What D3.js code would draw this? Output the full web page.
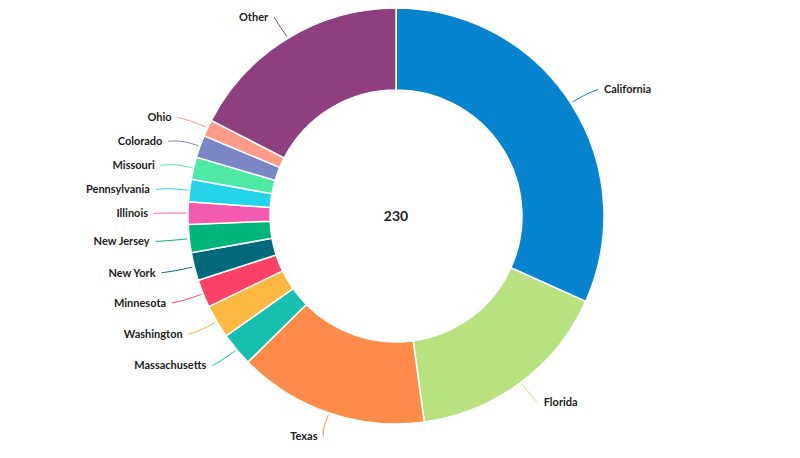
<!DOCTYPE html>
<html><head><meta charset="utf-8">
<script src="https://cdn.jsdelivr.net/npm/d3@7"></script>
<style>body{margin:0;background:#fff}text{font-family:Lato,"Open Sans",sans-serif}</style>
</head><body><svg id="chart" width="800" height="458"></svg>
<script>
var states = ['California','Florida','Texas','Massachusetts','Washington','Minnesota','New York','New Jersey','Illinois','Pennsylvania','Missouri','Colorado','Ohio','Other'];
var counts = [73,37,34,6,6,5,5,5,4,4,4,4,3,40];
var colors = ['#0784d0','#b7e27f','#ff8b4a','#17c0ae','#fcb941','#ff4066','#006a7a','#00b67b','#f25bb0','#24d5ea','#4fe9a6','#7b86c6','#ff9b88','#8f3e80'];

var svg = d3.select('#chart'),
    cx = 396, cy = 216, outer = 208, inner = 126, labelRx = 250, labelRy = 233;

var pie = d3.pie().sort(null).value(function(d) { return d.value; });
var arcs = pie(states.map(function(s, i) { return {name: s, value: counts[i], color: colors[i]}; }));
var arc = d3.arc().innerRadius(inner).outerRadius(outer);

var g = svg.append('g').attr('transform', 'translate(' + cx + ',' + cy + ')');

g.selectAll('path.slice').data(arcs).enter().append('path')
    .attr('class', 'slice')
    .attr('d', arc)
    .attr('fill', function(d) { return d.data.color; })
    .attr('stroke', '#fff').attr('stroke-width', 1.5);

g.append('text').attr('text-anchor', 'middle').attr('dy', '0.35em')
    .style('font-size', '14px').style('font-weight', 'bold').attr('fill', '#222')
    .text(d3.sum(counts));

// label positions, spread on the left so they do not overlap
var labels = arcs.map(function(d) {
    var a = (d.startAngle + d.endAngle) / 2;
    return {d: d, a: a, x: Math.sin(a) * labelRx, y: -Math.cos(a) * labelRy, left: Math.sin(a) < 0};
});
var leftSide = labels.filter(function(l) { return l.left; }).sort(function(a, b) { return a.y - b.y; });
for (var i = 1; i < leftSide.length; i++) {
    if (leftSide[i].y - leftSide[i - 1].y < 24) leftSide[i].y = leftSide[i - 1].y + 24;
}

var line = d3.line().curve(d3.curveBasis);

labels.forEach(function(l) {
    var p0 = [Math.sin(l.a) * (outer + 2), -Math.cos(l.a) * (outer + 2)];
    var p1 = [Math.sin(l.a) * (outer + 20), -Math.cos(l.a) * (outer + 18)];
    var p2 = [l.x + (l.left ? 8 : -8), l.y];
    g.append('path').attr('d', line([p0, p1, p2]))
        .attr('fill', 'none').attr('stroke', l.d.data.color).attr('stroke-width', 1);
    g.append('text')
        .attr('x', l.x + (l.left ? 2 : -2)).attr('y', l.y).attr('dy', '0.35em')
        .attr('text-anchor', l.left ? 'end' : 'start')
        .style('font-size', '11px').style('font-weight', 'bold').attr('fill', '#222')
        .text(l.d.data.name);
});
</script></body></html>
